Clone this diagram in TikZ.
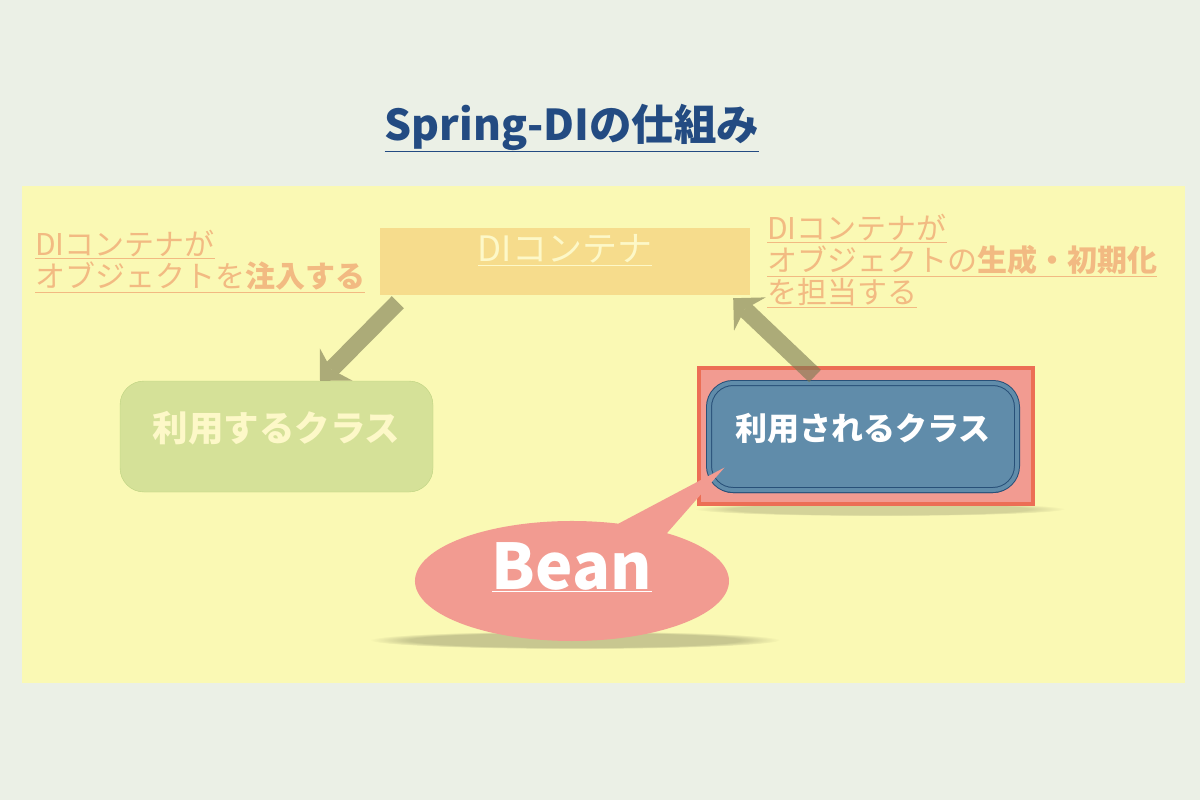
\documentclass[tikz,border=0pt]{standalone}
\usepackage{fontspec}
\setmainfont{Noto Sans CJK JP}
\usetikzlibrary{arrows.meta,shapes.callouts,shadows,fadings}
\definecolor{bgcol}{RGB}{235,240,230}
\definecolor{panelcol}{RGB}{250,249,180}
\definecolor{titlecol}{RGB}{35,75,130}
\definecolor{containercol}{RGB}{246,220,140}
\definecolor{palecol}{RGB}{253,248,200}
\definecolor{notecol}{RGB}{242,186,130}
\definecolor{usercol}{RGB}{213,225,152}
\definecolor{userline}{RGB}{188,210,128}
\definecolor{beancol}{RGB}{242,155,145}
\definecolor{redline}{RGB}{236,110,85}
\definecolor{usedcol}{RGB}{96,140,170}
\definecolor{usedline}{RGB}{40,80,120}
\definecolor{arrowcol}{RGB}{120,120,80}
\newcommand{\undl}[1]{\underline{#1}}
\tikzset{
  note/.style={text=notecol, font=\fontsize{30}{32}\selectfont, align=left, inner sep=0pt},
  classlabel/.style={font=\fontsize{#1}{38}\selectfont\bfseries},
  classlabel/.default=32,
  fatarrow/.style={line width=17pt, draw=arrowcol, -{Stealth[length=23pt, width=46pt, inset=7pt, line width=0pt]}},
  floorshadow/.style={fill=black, path fading=circle with fuzzy edge 20 percent},
}

\begin{document}
\begin{tikzpicture}[x=1pt,y=-1pt]
    \fill[bgcol] (0,0) rectangle (1200,800);
    \useasboundingbox (0,0) rectangle (1200,800);
    \fill[panelcol] (22,186) rectangle (1185,683);
    \node[text=titlecol, font=\fontsize{42.5}{46}\selectfont\bfseries] (title) at (572,128) {\undl{Spring-DIの仕組み}};
    % DIコンテナ
    \node[fill=containercol, minimum width=370pt, minimum height=67pt] (container) at (565,261.5) {};
    \node[text=palecol, font=\fontsize{35}{38}\selectfont] (containerlabel) at (565,250) {\undl{DIコンテナ}};
    \node[note, anchor=north west] (injectnote) at (35,230) {\undl{DIコンテナが}\\\undl{オブジェクトを\textbf{注入する}}};
    \node[note, anchor=north west] (createnote) at (767,214) {\undl{DIコンテナが}\\\undl{オブジェクトの\textbf{生成・初期化}}\\\undl{を担当する}};
    % classes
    \node[rounded corners=24pt, fill=usercol, draw=userline, minimum width=313pt, minimum height=111pt] (user) at (276.5,436.5) {};
    \node[classlabel=35.5, text=palecol] (userlabel) at (276.5,428) {利用するクラス};
    \fill[floorshadow, opacity=0.15] (880,509) ellipse (185 and 7);
    \node[fill=beancol, draw=redline, line width=4pt, minimum width=334pt, minimum height=136pt] (beanframe) at (866,436) {};
    \node[rounded corners=24pt, fill=usedcol, draw=usedline, line width=1pt, double=usedcol, double distance=4pt,
          minimum width=308pt, minimum height=107pt,
          drop shadow={shadow xshift=0pt, shadow yshift=-3pt, fill=usedline, opacity=1}] (used) at (863,436.5) {};
    \node[classlabel, text=white] (usedlabel) at (863,428) {利用されるクラス};
    % arrows
    \coordinate (injtail) at ([xshift=18pt,yshift=-7pt]container.south west);
    \coordinate (injtip) at ([xshift=43.5pt]user.north);
    \coordinate (regtail) at ([xshift=-51pt,yshift=-10pt]beanframe.north);
    \coordinate (regtip) at ([xshift=-17pt,yshift=-3pt]container.south east);
    \begin{scope}[transparency group, opacity=0.6]
        \draw[fatarrow] (injtail) -- (injtip);
        \draw[fatarrow] (regtail) -- (regtip);
    \end{scope}
    % Bean
    \fill[floorshadow, opacity=0.2] (575,640) ellipse (205 and 9);
    \coordinate (beantip) at ([xshift=16pt,yshift=23pt]used.south west);
    \node[ellipse callout, fill=beancol, minimum width=314pt, minimum height=120pt,
          callout absolute pointer={(beantip)}, callout pointer arc=20] (bean) at (572,581) {};
    \node[text=white, font=\fontsize{63}{68}\selectfont\bfseries] (beanlabel) at (572,567) {\undl{Bean}};
\end{tikzpicture}
\end{document}
